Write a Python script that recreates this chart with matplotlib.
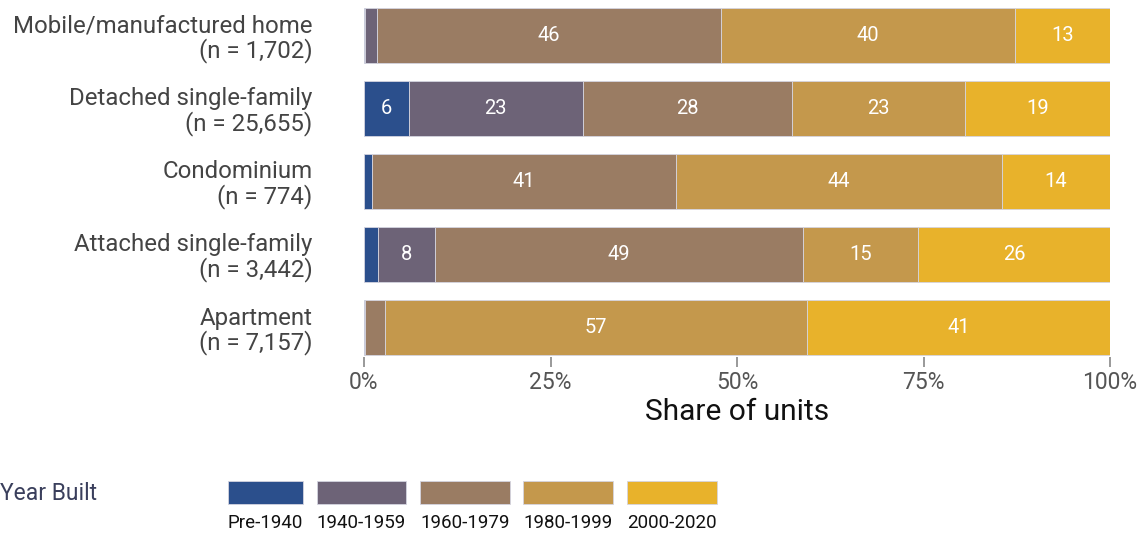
import matplotlib.pyplot as plt
from matplotlib.patches import Rectangle
import numpy as np

plt.rcParams['font.family'] = ['Roboto', 'DejaVu Sans']

# Housing types (top to bottom) and shares of units by construction period
categories = ["Mobile/manufactured home\n(n = 1,702)",
              "Detached single-family\n(n = 25,655)",
              "Condominium\n(n = 774)",
              "Attached single-family\n(n = 3,442)",
              "Apartment\n(n = 7,157)"]
periods = ["Pre-1940", "1940-1959", "1960-1979", "1980-1999", "2000-2020"]
pre_1940 = [0.2, 6.0, 1.1, 1.9, 0.1]
y1940_1959 = [1.5, 23.3, 0.0, 7.6, 0.0]
y1960_1979 = [46.1, 28.1, 40.7, 49.4, 2.7]
y1980_1999 = [39.5, 23.2, 43.7, 15.4, 56.6]
y2000_2020 = [12.7, 19.4, 14.5, 25.7, 40.6]
colors = ["#2b4f8c", "#6d6377", "#9a7c63", "#c4984c", "#e8b22b"]

series = [pre_1940, y1940_1959, y1960_1979, y1980_1999, y2000_2020]

fig = plt.figure(figsize=(11.42, 5.33), dpi=100)
ax = fig.add_axes([364 / 1142, 1 - 357 / 533, (1110 - 364) / 1142, 351 / 533])

y = np.arange(len(categories))
left = np.zeros(len(categories))
for vals, col in zip(series, colors):
    vals = np.array(vals)
    ax.barh(y, vals, left=left, height=0.75, color=col,
            edgecolor="#d4d4e0", linewidth=0.6)
    for yi, v, l in zip(y, vals, left):
        if v >= 5:
            ax.text(l + v / 2, yi, f"{v:.0f}", ha="center", va="center",
                    color="white", fontsize=14.5)
    left += vals

ax.set_xlim(0, 100)
ax.set_ylim(4.4, -0.4)
ax.set_yticks(y)
ax.set_yticklabels(categories, fontsize=17.3, color="#444444", linespacing=1.05)
ax.set_xticks([0, 25, 50, 75, 100])
ax.set_xticklabels(["0%", "25%", "50%", "75%", "100%"], fontsize=16.5,
                   color="#555555")
ax.tick_params(axis="y", length=0, pad=37)
ax.tick_params(axis="x", length=7, width=1.2, color="#888888", pad=3)
for s in ax.spines.values():
    s.set_visible(False)
ax.set_xlabel("Share of units", fontsize=21.5, color="#111111", labelpad=3)

# Legend below the chart, labels under the colour keys
fig.text(0.0, 1 - 494 / 533, "Year Built", fontsize=16.5, color="#3a3f5c",
         ha="left", va="center")
key_x = [228, 317, 420, 523, 627]
key_w = [75, 89, 90, 90, 90]
for kx, kw, col, lab in zip(key_x, key_w, colors, periods):
    fig.add_artist(Rectangle((kx / 1142, 1 - 504 / 533), kw / 1142, 23 / 533,
                             transform=fig.transFigure, facecolor=col,
                             edgecolor="#d4d4e0", linewidth=0.6))
    fig.text((kx + kw / 2) / 1142, 1 - 523 / 533, lab, fontsize=13.5,
             color="#111111", ha="center", va="center")

fig.savefig("out.png", dpi=100)
